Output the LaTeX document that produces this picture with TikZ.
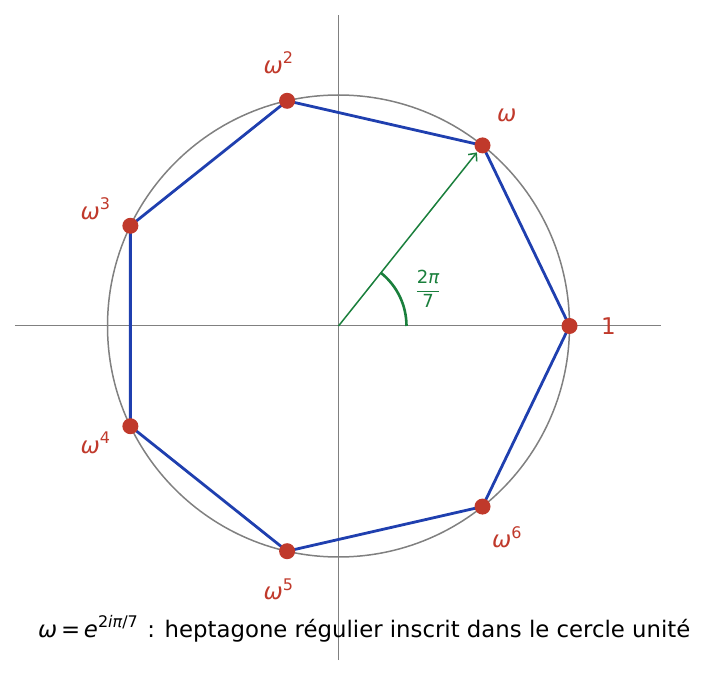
\documentclass[tikz,border=0pt]{standalone}
\usepackage{fontspec}
\setmainfont{DejaVu Sans}
\usetikzlibrary{arrows.meta}
\definecolor{ptred}{HTML}{C0392B}
\definecolor{hepblue}{HTML}{1F3FAF}
\definecolor{angreen}{HTML}{1A7F3C}
\definecolor{axgray}{HTML}{808080}
\newcommand{\om}{{\itshape ω}}
\newcommand{\sps}[1]{\raisebox{0.42em}{\fontsize{16}{17}\selectfont #1}}
\tikzset{
  axisline/.style={axgray, line width=1pt},
  unitcircle/.style={axgray, line width=1.5pt},
  heplines/.style={hepblue, line width=2.8pt, line join=round},
  dot/.style={circle, fill=ptred, inner sep=0pt, minimum size=16pt},
  rootlabel/.style={text=ptred, font=\fontsize{23}{25}\selectfont, inner sep=0pt},
  vecarrow/.style={angreen, line width=1.5pt, -{Straight Barb[length=6pt,width=11pt,line width=1.5pt]}},
  anglearc/.style={angreen, line width=2.6pt},
  anglelabel/.style={text=angreen, font=\fontsize{18}{20}\selectfont, inner sep=0pt},
  captiontext/.style={font=\fontsize{22.8}{25}\selectfont, inner sep=0pt, anchor=base west}
}
\begin{document}
\begin{tikzpicture}[x=1pt,y=1pt]
\useasboundingbox (-338.5,-350) rectangle (369.5,326);
\coordinate (O) at (0,0);
% axes
\coordinate (xl) at (-323.5,0);
\coordinate (xr) at (322.5,0);
\coordinate (yt) at (0,311);
\coordinate (yb) at (0,-334);
\draw[axisline] (xl) -- (xr);
\draw[axisline] (yb) -- (yt);
% circle
\draw[unitcircle] (O) circle (231);
% points
\foreach \k in {0,...,6}{
  \coordinate (p\k) at ({360/7*\k}:231);
}
\draw[heplines] (p0) -- (p1) -- (p2) -- (p3) -- (p4) -- (p5) -- (p6) -- cycle;
% arrow and angle
\coordinate (tip) at ({360/7}:222);
\draw[vecarrow] (O) -- (tip);
\draw[anglearc] (68,0) arc[start angle=0, end angle={360/7}, radius=68];
\node[anglelabel] (frac) at (89.5,37) {$\displaystyle\frac{\mbox{2\itshape π}}{\mbox{7}}$};
% dots
\foreach \k in {0,...,6}{
  \node[dot] (d\k) at (p\k) {};
}
% labels
\node[rootlabel] (l0) at ({0}:270) {1};
\node[rootlabel] (l1) at ({360/7}:270) {\om};
\node[rootlabel] (l2) at ({2*360/7}:270) {\om\sps{2}};
\node[rootlabel] (l3) at ({3*360/7}:270) {\om\sps{3}};
\node[rootlabel] (l4) at ({4*360/7}:270) {\om\sps{4}};
\node[rootlabel] (l5) at ({5*360/7}:270) {\om\sps{5}};
\node[rootlabel] (l6) at ({6*360/7}:270) {\om\sps{6}};
% caption
\node[captiontext] (cap) at (-300.5,-311) {\om\,=\,{\itshape e}\raisebox{0.42em}{\fontsize{16}{17}\selectfont 2{\itshape iπ}/7}\hspace{0.1em} : heptagone régulier inscrit dans le cercle unité};
\end{tikzpicture}
\end{document}
